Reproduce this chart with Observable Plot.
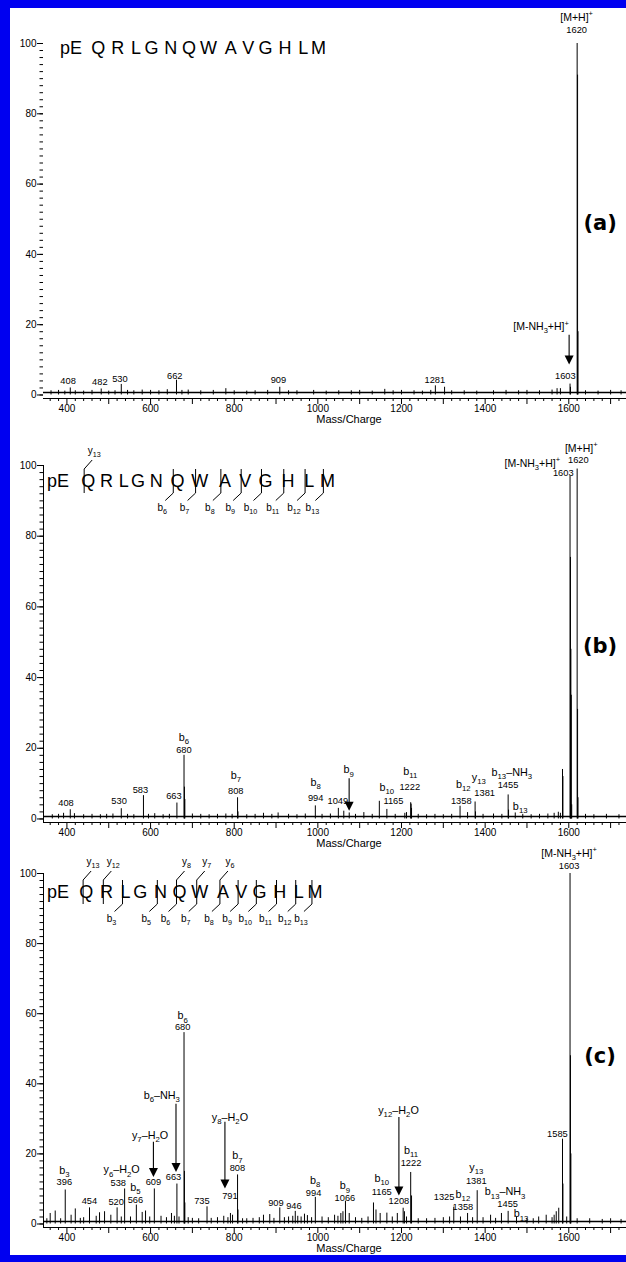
<!DOCTYPE html>
<html><head><meta charset="utf-8">
<script src="https://cdn.jsdelivr.net/npm/d3@7"></script>
<script src="https://cdn.jsdelivr.net/npm/@observablehq/plot@0.6"></script>
<style>
html,body{margin:0;padding:0;background:#fff;}
#frame{width:616px;border-left:10px solid #0000f0;border-top:8px solid #0000f0;border-bottom:7px solid #0000f0;background:#fff;}
#frame svg{display:block;}
</style></head><body><div id="frame"></div>
<script>
const FONT = "'Liberation Sans', Arial, Helvetica, sans-serif";
const xDomain = [344, 1738];
const xLabels = [400, 600, 800, 1000, 1200, 1400, 1600];
const yLabels = [0, 20, 40, 60, 80, 100];
const noiseLevel = 0.7;
const sequence = ["pE","Q","R","L","G","N","Q","W","A","V","G","H","L","M"];

// ---- Panel (a) ----
const peaksA = [[362,1.2],[380,1.3],[395,1.1],[408,2.0],[420,1.2],[440,1.1],[460,1.3],[482,1.7],[500,1.1],[515,1.2],[530,3.0],[545,1.3],[560,1.2],[580,1.4],[600,1.3],[620,1.2],[640,1.5],[662,4.2],[675,1.3],[690,1.4],[720,1.2],[750,1.3],[780,1.8],[800,1.2],[830,1.1],[850,1.2],[880,1.3],[909,2.2],[930,1.2],[950,1.2],[990,1.3],[1020,1.1],[1050,1.2],[1080,1.2],[1100,1.3],[1130,1.1],[1160,1.6],[1180,1.2],[1200,1.3],[1230,1.2],[1250,1.1],[1270,1.3],[1281,2.6],[1303,2.2],[1320,1.2],[1350,1.2],[1380,1.1],[1420,1.2],[1450,1.3],[1480,1.2],[1500,1.3],[1530,1.2],[1560,1.4],[1572,1.8],[1580,1.8],[1603,3.1],[1604,2.2],[1620,100],[1621,91],[1622,18],[1640,1.2],[1670,1.1],[1700,1.3],[1725,1.2]];
const labelsA = [
 {x:1620,y:107.3,t:"[M+H]^+",k:"m"},{x:1620,y:103.8,t:"1620",k:"n"},
 {x:1535,y:19.3,t:"[M-NH_3+H]^+",k:"m"},{x:1593,y:5.3,t:"1603",k:"n"},
 {x:404,y:3.9,t:"408",k:"n"},{x:480,y:3.6,t:"482",k:"n"},{x:528,y:4.6,t:"530",k:"n"},
 {x:659,y:5.4,t:"662",k:"n"},{x:907,y:4.1,t:"909",k:"n"},{x:1281,y:4.1,t:"1281",k:"n"},
 {x:1676,y:49,t:"(a)",k:"p"}];
const arrowsA = [{x:1602,y1:17,y2:8.5}];

// ---- Panel (b) ----
const peaksB = [[365,1.2],[380,1.3],[392,1.6],[408,2.6],[418,1.5],[440,1.2],[460,1.3],[480,1.2],[495,1.3],[510,1.4],[530,2.9],[545,1.3],[560,1.2],[583,6.6],[595,1.3],[610,1.5],[630,1.2],[645,1.3],[663,4.5],[680,18],[681,9],[682,5.5],[700,1.4],[720,1.3],[740,1.2],[760,1.3],[780,1.4],[795,1.3],[808,6],[809,2],[830,1.2],[850,1.3],[870,1.6],[890,1.3],[905,1.7],[930,1.3],[950,1.2],[970,1.4],[994,3.7],[1010,1.3],[1030,1.4],[1049,3],[1062,2.2],[1075,1.7],[1090,1.3],[1110,1.8],[1130,1.3],[1147,5],[1165,2.7],[1185,1.3],[1208,1.6],[1212,1.8],[1222,4.6],[1223,4.2],[1224,3],[1240,1.3],[1260,1.2],[1280,1.3],[1300,1.2],[1320,1.3],[1340,3.6],[1358,1.8],[1376,4.8],[1377,2],[1395,1.3],[1420,1.4],[1440,1.3],[1455,6.8],[1456,2.5],[1472,1.7],[1490,1.3],[1510,1.2],[1530,1.3],[1550,1.4],[1565,1.6],[1575,1.9],[1580,1.6],[1585,14],[1586,12],[1603,97],[1604,74],[1605,48],[1606,35],[1607,4],[1620,99],[1621,31],[1622,6],[1640,1.3],[1660,1.2],[1690,1.3],[1720,1.2]];
const labelsB = [
 {x:1631,y:104.8,t:"[M+H]^+",k:"m"},{x:1624,y:101.4,t:"1620",k:"n"},
 {x:1514,y:100.6,t:"[M-NH_3+H]^+",k:"m"},{x:1588,y:97.7,t:"1603",k:"n"},
 {x:399,y:4.5,t:"408",k:"n"},{x:526,y:4.9,t:"530",k:"n"},{x:577,y:8.1,t:"583",k:"n"},{x:657,y:6.3,t:"663",k:"n"},
 {x:681,y:23.1,t:"b_6",k:"i"},{x:681,y:19.5,t:"680",k:"n"},
 {x:805,y:12.2,t:"b_7",k:"i"},{x:805,y:7.8,t:"808",k:"n"},
 {x:996,y:10.3,t:"b_8",k:"i"},{x:996,y:5.8,t:"994",k:"n"},
 {x:1049,y:5,t:"1049",k:"n"},{x:1075,y:13.8,t:"b_9",k:"i"},
 {x:1166,y:8.8,t:"b_10",k:"i"},{x:1182,y:4.9,t:"1165",k:"n"},
 {x:1222,y:13.4,t:"b_11",k:"i"},{x:1221,y:9.1,t:"1222",k:"n"},
 {x:1349,y:9.8,t:"b_12",k:"i"},{x:1344,y:5,t:"1358",k:"n"},
 {x:1386,y:11.6,t:"y_13",k:"i"},{x:1400,y:7.4,t:"1381",k:"n"},
 {x:1465,y:13.2,t:"b_13–NH_3",k:"i"},{x:1456,y:9.4,t:"1455",k:"n"},
 {x:1485,y:3.5,t:"b_13",k:"i"},
 {x:1676,y:49,t:"(b)",k:"p"}];
const arrowsB = [{x:1076,y1:11.4,y2:2.2}];
const bIonsB = [6,7,8,9,10,11,12,13];
const yIonsB = [13];

// ---- Panel (c) ----
const peaksC = [[352,1.5],[360,3],[372,3.7],[385,1.5],[396,9.7],[410,2.5],[420,4.3],[432,1.6],[440,1.8],[454,4.6],[470,2.2],[478,3.2],[490,3.5],[505,2.5],[520,4.6],[530,2],[538,10],[552,2],[566,5.4],[580,3.3],[588,3.7],[598,2],[609,10],[625,2.2],[638,1.8],[650,3],[657,2.2],[663,11.4],[668,2],[680,54.6],[681,15],[682,6],[690,1.8],[700,1.6],[715,1.5],[735,4.9],[745,1.6],[760,1.8],[775,2.2],[785,1.8],[791,3],[796,2.5],[808,14],[809,4],[820,1.5],[830,1.5],[845,1.6],[860,1.8],[870,2.5],[885,2.7],[895,1.6],[909,4.6],[920,1.8],[930,2],[940,2.2],[946,3.6],[952,2.2],[960,2],[968,2.8],[975,2.4],[985,1.8],[994,7.6],[1010,2],[1025,1.8],[1040,2.5],[1048,2.2],[1055,3],[1060,3.5],[1066,6.5],[1075,3],[1090,1.8],[1105,1.6],[1120,2],[1133,6],[1139,4],[1149,3],[1165,3.1],[1178,2],[1190,3],[1204,4.5],[1207,3.5],[1212,2],[1222,14.7],[1224,8],[1240,1.5],[1260,1.5],[1280,1.6],[1300,1.8],[1315,2],[1325,4.8],[1341,2],[1358,3],[1370,1.8],[1381,9.5],[1395,1.8],[1413,2.5],[1425,1.6],[1439,3],[1455,3.6],[1475,2],[1500,1.6],[1515,1.5],[1528,2],[1546,2.5],[1560,1.8],[1565,2.5],[1570,3.5],[1576,4.5],[1585,24.2],[1586,11.4],[1595,2],[1603,100],[1604,48],[1605,20],[1620,1.5],[1650,1.5],[1680,1.3],[1700,1.5],[1725,1.3]];
const labelsC = [
 {x:1602,y:105.7,t:"[M-NH_3+H]^+",k:"m"},{x:1602,y:102.2,t:"1603",k:"n"},
 {x:395,y:15.2,t:"b_3",k:"i"},{x:395,y:11.9,t:"396",k:"n"},
 {x:455,y:6.4,t:"454",k:"n"},{x:519,y:6.2,t:"520",k:"n"},
 {x:532,y:15.4,t:"y_6–H_2O",k:"i"},{x:524,y:11.7,t:"538",k:"n"},
 {x:565,y:10.4,t:"b_5",k:"i"},{x:565,y:6.8,t:"566",k:"n"},
 {x:600,y:25.2,t:"y_7–H_2O",k:"i"},{x:608,y:11.9,t:"609",k:"n"},
 {x:628,y:36.6,t:"b_6–NH_3",k:"i"},{x:656,y:13.3,t:"663",k:"n"},
 {x:678,y:59.3,t:"b_6",k:"i"},{x:678,y:56,t:"680",k:"n"},
 {x:724,y:6.4,t:"735",k:"n"},
 {x:791,y:30.4,t:"y_8–H_2O",k:"i"},{x:791,y:7.8,t:"791",k:"n"},
 {x:809,y:19.4,t:"b_7",k:"i"},{x:809,y:16,t:"808",k:"n"},
 {x:901,y:6,t:"909",k:"n"},{x:944,y:5,t:"946",k:"n"},
 {x:995,y:12.4,t:"b_8",k:"i"},{x:991,y:8.9,t:"994",k:"n"},
 {x:1066,y:10.8,t:"b_9",k:"i"},{x:1066,y:7.4,t:"1066",k:"n"},
 {x:1154,y:12.9,t:"b_10",k:"i"},{x:1154,y:9.2,t:"1165",k:"n"},
 {x:1194,y:32.3,t:"y_12–H_2O",k:"i"},{x:1195,y:6.4,t:"1208",k:"n"},
 {x:1224,y:21,t:"b_11",k:"i"},{x:1224,y:17.2,t:"1222",k:"n"},
 {x:1303,y:7.6,t:"1325",k:"n"},
 {x:1348,y:8.4,t:"b_12",k:"i"},{x:1348,y:4.9,t:"1358",k:"n"},
 {x:1380,y:16,t:"y_13",k:"i"},{x:1380,y:12.2,t:"1381",k:"n"},
 {x:1449,y:9.1,t:"b_13–NH_3",k:"i"},{x:1455,y:5.5,t:"1455",k:"n"},
 {x:1487,y:2.8,t:"b_13",k:"i"},
 {x:1574,y:25.6,t:"1585",k:"n"},
 {x:1676,y:48,t:"(c)",k:"p"}];
const arrowsC = [{x:608,y1:23.3,y2:13.3},{x:662,y1:34.2,y2:14.7},{x:779,y1:29,y2:10},{x:1195,y1:30.4,y2:8}];
const bIonsC = [3,5,6,7,8,9,10,11,12,13];
const yIonsC = [13,12,8,7,6];

// ---- helpers ----
const kindStyle = {n:{fs:9.3,fam:FONT,w:null}, i:{fs:10.8,fam:FONT,w:null}, m:{fs:10.5,fam:FONT,w:null}, p:{fs:21,fam:"'DejaVu Sans', Verdana, sans-serif",w:"bold"}};

function richText(g, s, px, py, fs, anchor, fam, weight) {
  const t = g.append("text").attr("x", px).attr("y", py + 0.35 * fs)
    .attr("text-anchor", anchor).attr("font-size", fs).attr("font-family", fam).attr("fill", "#000");
  if (weight) t.attr("font-weight", weight);
  const parts = s.split(/(_\d+|\^\+)/).filter(p => p.length);
  let off = 0;
  for (const p of parts) {
    let txt = p, size = fs, target = 0;
    if (p[0] === "_") { txt = p.slice(1); size = fs * 0.72; target = fs * 0.3; }
    else if (p[0] === "^") { txt = p.slice(1); size = fs * 0.72; target = -fs * 0.45; }
    const ts = t.append("tspan").attr("font-size", size).text(txt);
    const d = target - off; if (d) ts.attr("dy", d); off = target;
  }
}

function labelMark(list) {
  return (index, scales) => {
    const g = d3.create("svg:g");
    for (const a of list) {
      const st = kindStyle[a.k];
      richText(g, a.t, scales.x(a.x), scales.y(a.y), st.fs, "middle", st.fam, st.w);
    }
    return g.node();
  };
}

function arrowMark(list) {
  return (index, scales) => {
    const g = d3.create("svg:g").attr("fill", "#000").attr("stroke", "#000");
    for (const a of list) {
      const X = scales.x(a.x), Y1 = scales.y(a.y1), Y2 = scales.y(a.y2);
      g.append("line").attr("x1", X).attr("x2", X).attr("y1", Y1).attr("y2", Y2 - 8).attr("stroke-width", 1.1);
      g.append("path").attr("stroke", "none").attr("d", `M${X-4.5},${Y2-9}L${X+4.5},${Y2-9}L${X},${Y2}Z`);
    }
    return g.node();
  };
}

function seqMark(cfg) {
  return (index, scales) => {
    const g = d3.create("svg:g").attr("font-family", FONT).attr("fill", "#000");
    const ctx = document.createElement("canvas").getContext("2d");
    ctx.font = `${cfg.fs}px 'Liberation Sans'`;
    const base = scales.y(100) + cfg.off;
    const cuts = new Map();
    for (const n of cfg.b) cuts.set(n, Object.assign(cuts.get(n) || {}, {b: n}));
    for (const n of cfg.y) { const k = sequence.length - n; cuts.set(k, Object.assign(cuts.get(k) || {}, {y: n})); }
    const line = (x1, y1, x2, y2) => g.append("line").attr("x1", x1).attr("y1", y1).attr("x2", x2).attr("y2", y2).attr("stroke", "#000").attr("stroke-width", 1);
    let X = cfg.x0 - 10;
    sequence.forEach((r, i) => {
      g.append("text").attr("x", X).attr("y", base).attr("font-size", cfg.fs).text(r);
      X += ctx.measureText(r).width;
      if (i === sequence.length - 1) return;
      const c = cuts.get(i + 1);
      if (c) {
        X += cfg.gapBar / 2;
        const top = base - 18, bot = base + 6;
        line(X, top, X, bot);
        if (c.b) { line(X, bot, X - 8, bot + 7.5); richText(g, "b_" + c.b, X - 11, bot + 14, 10, "middle", FONT); }
        if (c.y) { line(X, top, X + 8, top - 9); richText(g, "y_" + c.y, X + 10, top - 19, 10, "middle", FONT); }
        X += cfg.gapBar / 2;
      } else X += cfg.gap;
    });
    return g.node();
  };
}

function panel(peaks, labels, arrows, seq, dims, yLine) {
  const data = peaks.map(([mz, v]) => ({mz, v}));
  const majors = d3.range(400, 1701, 100);
  const minors = d3.range(360, 1738, 20).filter(d => d % 100 !== 0);
  return Plot.plot({
    width: 616, height: dims.h, marginLeft: 33, marginRight: 0, marginTop: dims.mt, marginBottom: dims.mb,
    x: {domain: xDomain}, y: {domain: [-1, 100]},
    style: {fontFamily: FONT, fontSize: "10px", color: "#000", background: "white", overflow: "visible"},
    marks: [
      Plot.ruleY([noiseLevel], {stroke: "#000", strokeWidth: 1.6}),
      Plot.ruleX(data, {x: "mz", y1: 0, y2: "v", stroke: "#000", strokeWidth: 1}),
      Plot.ruleY([-1], {stroke: "#000", strokeWidth: 1}),
      yLine ? Plot.ruleX([xDomain[0]], {y1: -1, y2: 100, stroke: "#000"}) : null,
      Plot.axisX({ticks: majors, tickSize: 6, tickPadding: 0, label: null, tickFormat: d => xLabels.includes(d) ? String(d) : ""}),
      Plot.axisX({ticks: minors, tickSize: 3, label: null, tickFormat: () => ""}),
      Plot.axisY({ticks: yLabels, tickSize: 6, tickPadding: 1, label: null}),
      Plot.axisY({ticks: d3.range(0, 101, 2), tickSize: 3.5, label: null, tickFormat: () => ""}),
      Plot.text(["Mass/Charge"], {frameAnchor: "bottom", dy: 24, dx: 14, fontSize: 11}),
      seqMark(seq), arrowMark(arrows), labelMark(labels)
    ]
  });
}

const frame = document.getElementById("frame");
frame.appendChild(panel(peaksA, labelsA, arrowsA, {x0: 71, off: 11, fs: 18, gap: 5.35, gapBar: 8, b: [], y: []}, {h: 420, mt: 35, mb: 30}, false));
frame.appendChild(panel(peaksB, labelsB, arrowsB, {x0: 58, off: 22, fs: 18, gap: 4.2, gapBar: 8.3, b: bIonsB, y: yIonsB}, {h: 422, mt: 37, mb: 28}, true));
frame.appendChild(panel(peaksC, labelsC, arrowsC, {x0: 58, off: 25, fs: 18, gap: 4.6, gapBar: 6.2, b: bIonsC, y: yIonsC}, {h: 405, mt: 23, mb: 28}, true));
</script></body></html>
